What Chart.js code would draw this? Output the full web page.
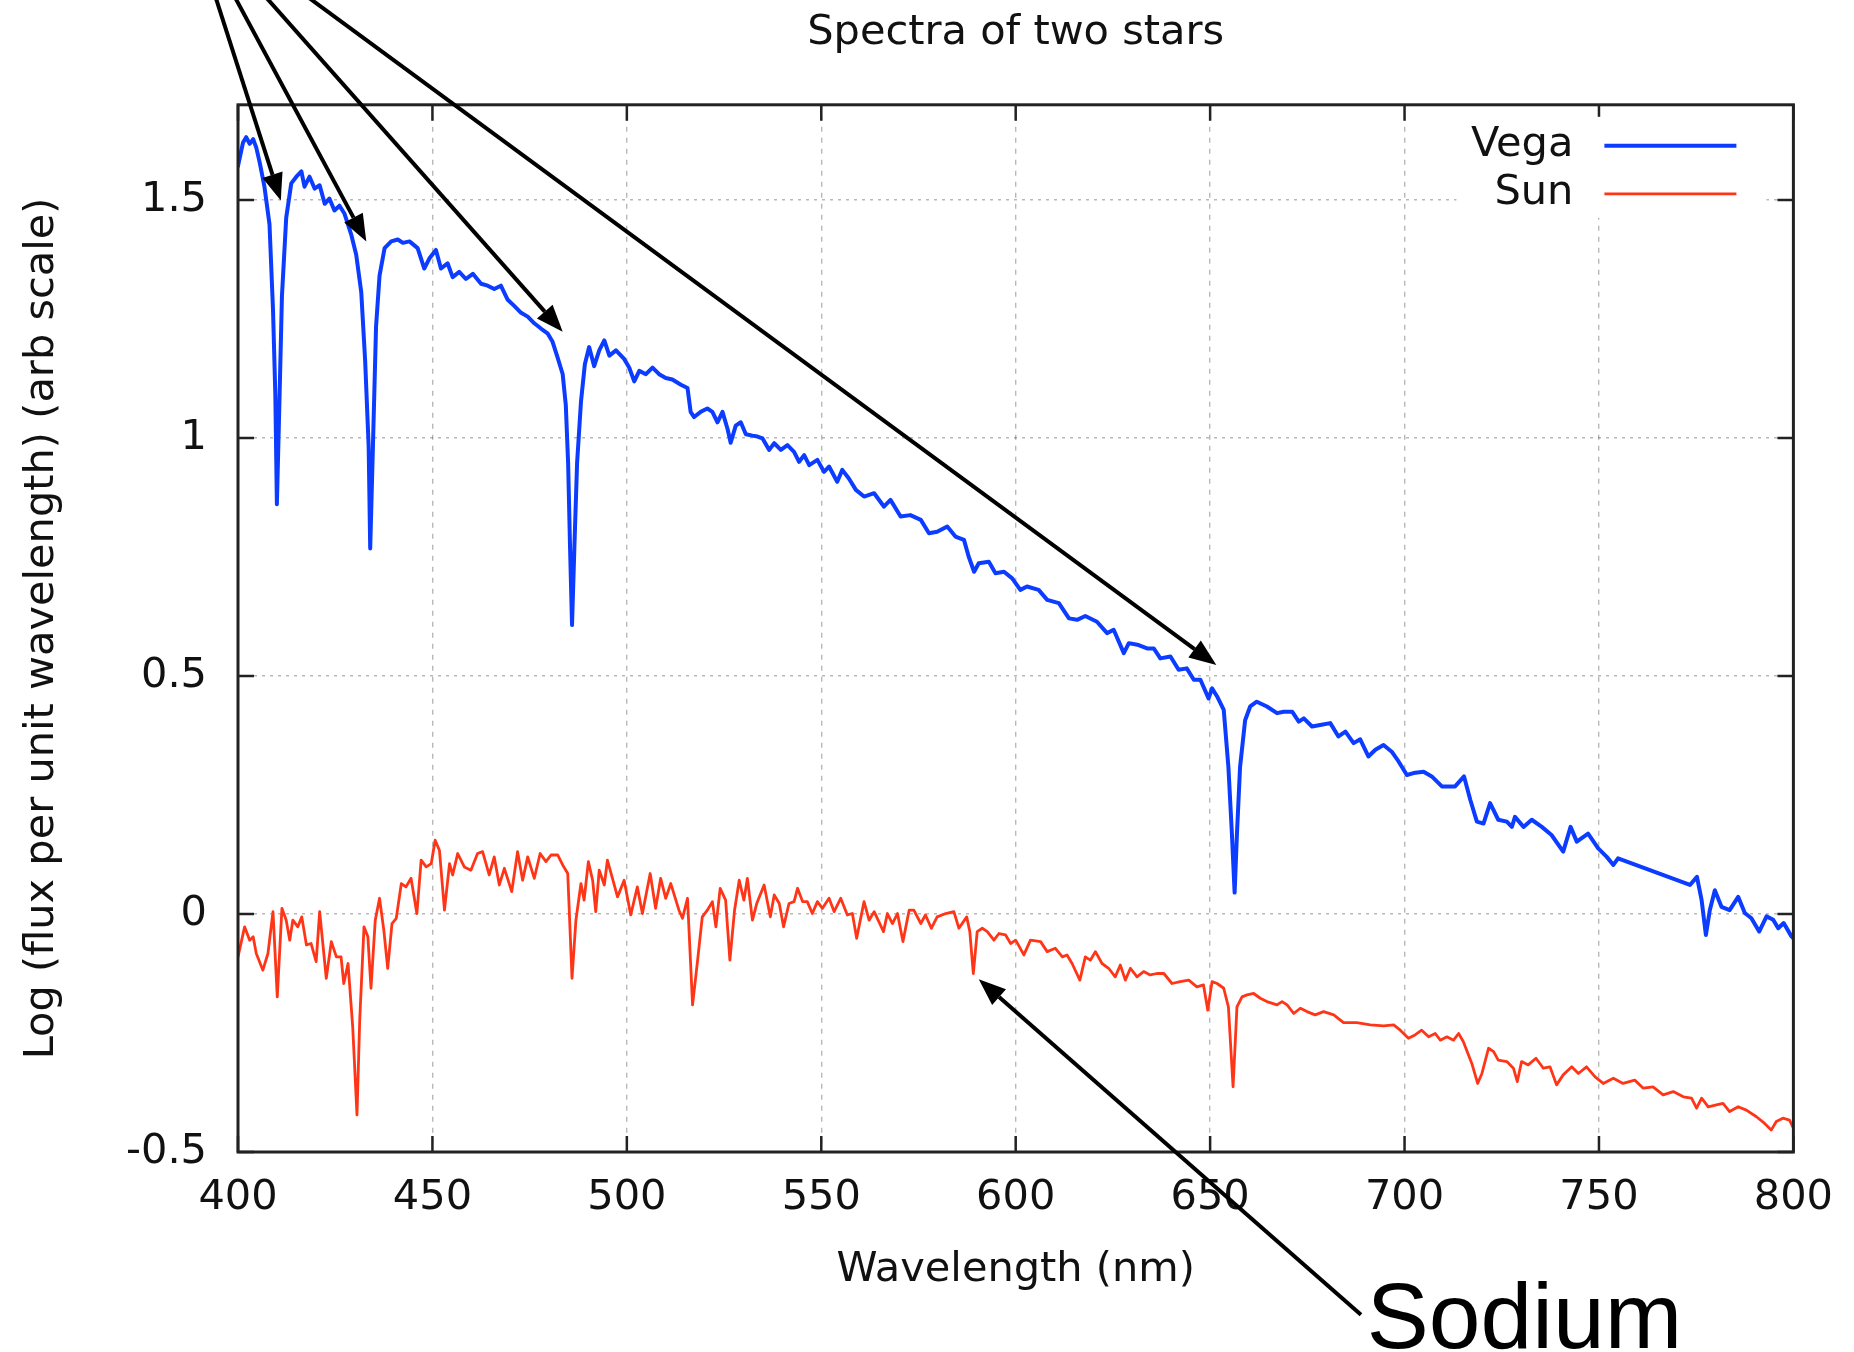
<!DOCTYPE html>
<html>
<head>
<meta charset="utf-8">
<title>Spectra of two stars</title>
<script src="https://cdn.jsdelivr.net/npm/chart.js@4.4.1/dist/chart.umd.min.js"></script>
<style>
    html, body { margin: 0; padding: 0; background: #fff; }
    canvas { display: block; }
</style>
</head>
<body>
<canvas id="spectra" width="1854" height="1352"></canvas>
<script>
// Vega spectrum (nm, log flux)
const vegaWavelength = [
    400.0, 401.3, 402.1, 403.0, 403.9, 404.7, 405.6, 406.8, 408.1, 409.0, 409.6, 410.0, 410.7, 411.3, 412.4,
    413.7, 415.0, 416.3, 417.1, 418.4, 419.7, 421.0, 422.3, 423.5, 424.8, 426.1, 427.4, 429.1, 430.4, 431.7,
    432.7, 433.6, 434.0, 434.7, 435.5, 436.4, 437.7, 439.4, 441.1, 442.4, 444.1, 446.2, 447.9, 449.2, 450.9,
    452.2, 453.9, 455.2, 456.9, 458.6, 460.4, 462.5, 464.2, 465.9, 467.6, 469.3, 471.1, 472.8, 474.5, 476.2,
    477.9, 479.6, 480.9, 482.2, 483.5, 484.3, 484.9, 485.4, 485.9, 486.5, 487.2, 488.2, 489.2, 490.3, 491.6,
    492.9, 494.2, 495.5, 497.2, 499.3, 500.6, 501.9, 503.2, 504.9, 506.6, 508.3, 510.0, 511.7, 513.9, 515.6,
    516.4, 517.3, 519.0, 520.7, 522.0, 523.3, 524.6, 525.9, 526.7, 528.0, 529.3, 530.6, 532.3,
    533.6, 534.9, 536.6, 537.9, 539.6, 541.3, 543.0, 544.3, 545.6, 546.9, 549.0, 550.7, 552.0, 554.1, 555.4,
    557.1, 558.9, 561.0, 563.6, 566.1, 567.8, 570.4, 572.9, 575.6, 577.7, 579.8, 582.4, 584.5, 586.7, 587.9,
    589.3, 590.5, 593.1, 594.8, 597.0, 599.1, 601.2, 602.9, 605.9, 608.1, 611.1, 613.7, 615.8, 617.9, 620.9,
    623.5, 625.2, 627.8, 629.1, 631.6, 633.8, 635.5, 637.2, 639.8, 641.9, 644.0, 645.8, 647.5, 649.6, 650.5,
    651.8, 653.5, 654.7, 655.6, 656.3, 656.9, 657.7, 659.0, 660.3, 662.0, 664.6,
    667.2, 668.9, 671.1, 672.8, 674.1, 676.2, 678.3, 680.9, 683.0, 684.8, 686.9, 688.6, 690.7, 692.5, 694.6,
    696.7, 698.5, 700.6, 702.3, 704.9, 707.0, 709.6, 713.0, 715.3, 716.9, 718.6, 720.3, 722.0, 724.1, 726.3,
    727.6, 728.4, 730.6, 732.7, 735.3, 737.8, 740.8, 742.7, 744.3, 747.2, 749.8, 752.0, 753.7, 754.9, 773.4,
    775.2, 776.4, 777.5, 778.5, 779.8, 781.5, 783.6, 785.8, 787.5, 789.2, 791.2, 793.1, 794.8, 796.1, 797.5,
    799.5, 800.0
];
const vegaFlux = [
    1.571, 1.621, 1.632, 1.618, 1.628, 1.610, 1.578, 1.528, 1.449, 1.270, 1.091, 0.861, 1.091, 1.298, 1.463,
    1.535, 1.549, 1.560, 1.528, 1.549, 1.524, 1.531, 1.492, 1.503, 1.478, 1.488, 1.471, 1.428, 1.385, 1.306,
    1.162, 0.983, 0.768, 0.983, 1.234, 1.341, 1.399, 1.413, 1.417, 1.410, 1.413, 1.399, 1.356, 1.377, 1.395,
    1.356, 1.367, 1.338, 1.349, 1.334, 1.345, 1.324, 1.320, 1.313, 1.320, 1.291, 1.277, 1.263, 1.255, 1.241,
    1.230, 1.220, 1.202, 1.169, 1.134, 1.069, 0.947, 0.768, 0.607, 0.768, 0.947, 1.076, 1.155, 1.191, 1.151,
    1.184, 1.205, 1.173, 1.184, 1.166, 1.148, 1.119, 1.141, 1.134, 1.148, 1.134, 1.126, 1.123, 1.112, 1.105,
    1.055, 1.044, 1.055, 1.062, 1.055, 1.033, 1.055, 1.019, 0.990, 1.026, 1.033, 1.008, 1.005,
    1.003, 0.999, 0.975, 0.989, 0.975, 0.985, 0.971, 0.950, 0.964, 0.943, 0.954, 0.929, 0.940, 0.908, 0.933,
    0.915, 0.891, 0.877, 0.884, 0.856, 0.870, 0.835, 0.838, 0.828, 0.800, 0.803, 0.814, 0.793, 0.786, 0.751,
    0.719, 0.737, 0.740, 0.716, 0.719, 0.705, 0.681, 0.688, 0.681, 0.660, 0.653, 0.621, 0.618, 0.626, 0.614,
    0.590, 0.597, 0.548, 0.569, 0.565, 0.558, 0.558, 0.537, 0.541, 0.513, 0.516, 0.492, 0.492, 0.453, 0.474,
    0.457, 0.429, 0.309, 0.169, 0.045, 0.169, 0.309, 0.407, 0.436, 0.446, 0.436,
    0.422, 0.425, 0.425, 0.404, 0.411, 0.394, 0.397, 0.401, 0.373, 0.383, 0.359, 0.367, 0.331, 0.345, 0.355,
    0.341, 0.320, 0.292, 0.296, 0.299, 0.289, 0.268, 0.268, 0.289, 0.240, 0.194, 0.190, 0.233, 0.198, 0.194,
    0.183, 0.204, 0.183, 0.198, 0.183, 0.166, 0.131, 0.183, 0.152, 0.169, 0.138, 0.120, 0.103, 0.117, 0.061,
    0.078, 0.029, -0.044, 0.008, 0.050, 0.015, 0.008, 0.036, 0.002, -0.009, -0.037, -0.005, -0.012, -0.030, -0.019,
    -0.047, -0.051
];

// Sun spectrum (nm, log flux)
const sunWavelength = [
    400.0, 401.7, 403.0, 403.9, 404.7, 406.4, 407.7, 409.0, 410.1, 411.3, 412.4, 413.3, 414.1, 415.4, 416.4,
    417.6, 418.8, 420.1, 421.0, 422.7, 424.0, 425.3, 426.5, 427.2, 428.3, 429.5, 430.6, 431.3, 432.4, 433.4,
    434.2, 435.3, 436.4, 437.5, 438.5, 439.6, 440.7, 442.0, 443.2, 444.5, 446.0, 447.1, 448.4, 449.7, 450.7,
    451.8, 453.1, 454.4, 455.2, 456.5, 458.2, 459.9, 461.6, 462.9, 464.6, 465.9, 467.2, 468.5, 470.4, 471.9,
    473.2, 474.5, 476.2, 477.7, 479.2, 480.5, 482.2, 483.5, 484.8, 485.9, 486.9, 488.2, 489.0, 490.1, 491.2,
    492.0, 492.9, 494.2, 495.0, 496.3, 497.6, 499.3, 501.0, 502.7, 504.0, 506.0, 507.4, 508.7, 510.0, 511.3,
    513.4, 514.3, 515.6, 516.9, 518.2, 519.4, 520.7, 522.0, 522.9, 524.0, 525.4, 526.5, 527.7, 528.9, 530.1,
    531.0, 532.3, 533.4,
    535.3, 536.9, 537.9, 539.2, 540.3, 541.7, 543.0, 543.9, 545.2, 546.4, 547.7, 549.0, 550.3, 552.0, 553.3,
    555.0, 556.7, 558.0, 559.1, 561.0, 562.3, 563.6, 566.0, 567.0, 568.3, 569.6, 571.0, 572.6, 573.8, 575.6,
    576.8, 578.3, 579.8, 582.0, 584.1, 585.4, 587.4, 588.2, 589.1, 590.1, 591.4, 592.7, 594.4, 595.7, 597.4,
    598.7, 600.0, 602.1, 603.8, 606.4, 608.1, 610.2, 612.0, 613.2, 614.5, 616.5, 617.9, 619.2, 620.5, 622.2,
    623.9, 625.6, 626.9, 628.2, 629.5, 631.2, 632.9, 634.6, 636.3, 638.1, 640.2, 642.3, 644.5, 646.6, 648.3,
    649.4, 650.5, 651.8, 653.5, 654.7, 655.9, 656.9, 658.2, 659.5, 661.2, 662.9, 664.6,
    667.2, 668.5, 669.8, 671.5, 673.2, 674.9, 677.0, 679.2, 681.8, 684.3, 687.7, 691.2, 694.6, 697.2, 698.9,
    701.0, 702.7, 704.4, 706.2, 707.9, 709.2, 710.9, 712.6, 713.9, 715.1, 717.3, 718.8, 719.9, 721.6, 722.9,
    724.1, 726.3, 728.0, 729.0, 730.1, 731.8, 733.8, 735.7, 737.4, 739.1, 740.8, 743.0, 744.7, 746.8, 749.0,
    751.1, 753.7, 756.2, 759.2, 761.4, 763.9, 766.5, 769.1, 771.7, 773.8, 775.1, 776.4, 778.1, 780.2, 781.9,
    783.6, 785.8, 787.9, 790.5, 792.6, 794.3, 795.6, 797.3, 799.0, 800.0
];
const sunFlux = [
    -0.090, -0.027, -0.055, -0.048, -0.083, -0.118, -0.083, 0.005, -0.174, 0.012, -0.013, -0.055, -0.013, -0.027, -0.006,
    -0.065, -0.062, -0.100, 0.005, -0.135, -0.058, -0.090, -0.090, -0.146, -0.104, -0.237, -0.422, -0.223, -0.027, -0.048,
    -0.156, -0.013, 0.033, -0.034, -0.114, -0.020, -0.009, 0.064, 0.057, 0.075, 0.001, 0.113, 0.099, 0.106, 0.155,
    0.134, 0.008, 0.106, 0.082, 0.127, 0.099, 0.092, 0.127, 0.131, 0.082, 0.120, 0.061, 0.096, 0.047, 0.131,
    0.071, 0.120, 0.075, 0.127, 0.110, 0.124, 0.124, 0.103, 0.085, -0.135, -0.013, 0.064, 0.029, 0.110, 0.071,
    0.005, 0.092, 0.061, 0.113, 0.075, 0.036, 0.071, -0.002, 0.057, 0.001, 0.085, 0.012, 0.075, 0.033, 0.064,
    0.008, -0.009, 0.033, -0.191, -0.097, -0.006, 0.008, 0.026, -0.027, 0.054, 0.029, -0.097, 0.008, 0.071, 0.029,
    0.075, -0.013, 0.022,
    0.061, -0.006, 0.040, 0.022, -0.027, 0.022, 0.026, 0.054, 0.026, 0.026, 0.001, 0.026, 0.012, 0.033, 0.005,
    0.033, -0.002, 0.001, -0.051, 0.026, -0.013, 0.005, -0.037, 0.001, -0.020, 0.001, -0.058, 0.008, 0.008, -0.020,
    -0.002, -0.030, -0.006, 0.001, 0.005, -0.030, -0.006, -0.037, -0.125, -0.037, -0.030, -0.037, -0.055, -0.041, -0.044,
    -0.062, -0.055, -0.086, -0.055, -0.058, -0.079, -0.072, -0.090, -0.086, -0.104, -0.139, -0.090, -0.097, -0.079, -0.104,
    -0.114, -0.132, -0.107, -0.139, -0.114, -0.132, -0.121, -0.128, -0.125, -0.125, -0.146, -0.142, -0.139, -0.153, -0.149,
    -0.202, -0.142, -0.146, -0.156, -0.195, -0.363, -0.195, -0.174, -0.170, -0.167, -0.177, -0.184,
    -0.191, -0.184, -0.191, -0.209, -0.198, -0.205, -0.212, -0.205, -0.212, -0.228, -0.228, -0.233, -0.235, -0.233, -0.244,
    -0.261, -0.254, -0.244, -0.258, -0.251, -0.265, -0.258, -0.265, -0.251, -0.268, -0.314, -0.356, -0.335, -0.282, -0.289,
    -0.307, -0.310, -0.324, -0.352, -0.310, -0.317, -0.303, -0.324, -0.321, -0.359, -0.338, -0.321, -0.335, -0.321, -0.342,
    -0.356, -0.345, -0.356, -0.349, -0.366, -0.363, -0.380, -0.373, -0.384, -0.387, -0.408, -0.387, -0.405, -0.401, -0.398,
    -0.415, -0.405, -0.412, -0.426, -0.440, -0.454, -0.436, -0.429, -0.433, -0.450
];

const yTickValues = [-0.5, 0, 0.5, 1, 1.5];
const yTickLabels = ['-0.5', '0', '0.5', '1', '1.5'];

// Callouts, in data units (wavelength, log flux)
const hydrogenArrowFrom = [386.9, 2.113];
const hydrogenArrowTips = [[411.0, 1.499], [433.0, 1.413], [483.5, 1.223], [651.6, 0.523]];
const sodiumArrowFrom = [688.8, -0.842];
const sodiumArrowTip = [590.5, -0.137];
const sodiumLabelAt = [690.3, -0.912];

const FONT = '"DejaVu Sans", sans-serif';
const INK = '#111';

function toPoints(xs, ys) {
    return xs.map((x, i) => ({x: x, y: ys[i]}));
}

/**
 * Black frame with inward ticks on all four sides, like gnuplot draws it.
 */
const frameTicks = {
    id: 'frameTicks',
    afterDatasetsDraw(chart) {
        const {ctx, chartArea: a, scales: {x, y}} = chart;
        const len = 16;
        ctx.save();
        ctx.strokeStyle = '#222';
        ctx.lineWidth = 2.5;
        ctx.beginPath();
        x.ticks.forEach(t => {
            const px = x.getPixelForValue(t.value);
            ctx.moveTo(px, a.bottom);
            ctx.lineTo(px, a.bottom - len);
            ctx.moveTo(px, a.top);
            ctx.lineTo(px, a.top + len);
        });
        y.ticks.forEach(t => {
            const py = y.getPixelForValue(t.value);
            ctx.moveTo(a.left, py);
            ctx.lineTo(a.left + len, py);
            ctx.moveTo(a.right, py);
            ctx.lineTo(a.right - len, py);
        });
        ctx.stroke();
        ctx.lineWidth = 3;
        ctx.strokeRect(a.left, a.top, a.right - a.left, a.bottom - a.top);
        ctx.restore();
    }
};

/**
 * Key in the top right corner: label first, then a line sample.
 */
const insideLegend = {
    id: 'insideLegend',
    afterDatasetsDraw(chart) {
        const {ctx, chartArea: a} = chart;
        const textRight = a.right - 220;
        const lineStart = a.right - 189;
        const lineEnd = a.right - 57;
        ctx.save();
        ctx.fillStyle = '#fff';
        ctx.fillRect(a.right - 337, a.top + 12, 310, 101);
        ctx.font = '41.5px ' + FONT;
        ctx.textAlign = 'right';
        ctx.textBaseline = 'middle';
        chart.data.datasets.forEach((ds, i) => {
            const yPos = a.top + 40 + i * 48;
            ctx.fillStyle = INK;
            ctx.fillText(ds.label, textRight, yPos);
            ctx.strokeStyle = ds.borderColor;
            ctx.lineWidth = ds.borderWidth;
            ctx.beginPath();
            ctx.moveTo(lineStart, yPos + 1);
            ctx.lineTo(lineEnd, yPos + 1);
            ctx.stroke();
        });
        ctx.restore();
    }
};

function drawArrow(ctx, x1, y1, x2, y2) {
    const ang = Math.atan2(y2 - y1, x2 - x1);
    const head = 27;
    const half = 10.5;
    const bx = x2 - head * Math.cos(ang);
    const by = y2 - head * Math.sin(ang);
    ctx.beginPath();
    ctx.moveTo(x1, y1);
    ctx.lineTo(bx, by);
    ctx.stroke();
    ctx.beginPath();
    ctx.moveTo(x2, y2);
    ctx.lineTo(bx + half * Math.sin(ang), by - half * Math.cos(ang));
    ctx.lineTo(bx - half * Math.sin(ang), by + half * Math.cos(ang));
    ctx.closePath();
    ctx.fill();
}

/**
 * Arrows to the Balmer lines of Vega and to the sodium line of the Sun.
 */
const callouts = {
    id: 'callouts',
    afterDraw(chart) {
        const {ctx, scales: {x, y}} = chart;
        const px = p => [x.getPixelForValue(p[0]), y.getPixelForValue(p[1])];
        ctx.save();
        ctx.strokeStyle = '#000';
        ctx.fillStyle = '#000';
        ctx.lineWidth = 4;
        const from = px(hydrogenArrowFrom);
        hydrogenArrowTips.forEach(tip => {
            const to = px(tip);
            drawArrow(ctx, from[0], from[1], to[0], to[1]);
        });
        const sFrom = px(sodiumArrowFrom);
        const sTo = px(sodiumArrowTip);
        drawArrow(ctx, sFrom[0], sFrom[1], sTo[0], sTo[1]);
        const label = px(sodiumLabelAt);
        ctx.font = '93px "Liberation Sans", sans-serif';
        ctx.textAlign = 'left';
        ctx.textBaseline = 'alphabetic';
        ctx.fillText('Sodium', label[0], label[1]);
        ctx.restore();
    }
};

new Chart(document.getElementById('spectra'), {
    type: 'line',
    plugins: [frameTicks, insideLegend, callouts],
    data: {
        datasets: [
            {
                label: 'Vega',
                data: toPoints(vegaWavelength, vegaFlux),
                borderColor: '#0b3cff',
                borderWidth: 4,
                pointRadius: 0,
                borderJoinStyle: 'round',
                borderCapStyle: 'round',
                tension: 0
            },
            {
                label: 'Sun',
                data: toPoints(sunWavelength, sunFlux),
                borderColor: '#ff3518',
                borderWidth: 2.8,
                pointRadius: 0,
                borderJoinStyle: 'round',
                borderCapStyle: 'round',
                tension: 0
            }
        ]
    },
    options: {
        responsive: false,
        animation: false,
        devicePixelRatio: 1,
        layout: {
            padding: {left: 0, right: 59, top: 0, bottom: 0}
        },
        plugins: {
            legend: {display: false},
            tooltip: {enabled: false},
            title: {
                display: true,
                fullSize: false,
                text: 'Spectra of two stars',
                color: INK,
                font: {family: FONT, size: 41.5, weight: 'normal'},
                padding: {top: 8, bottom: 47}
            }
        },
        scales: {
            x: {
                type: 'linear',
                min: 400,
                max: 800,
                afterFit: scale => { scale.height = 200; },
                ticks: {
                    stepSize: 50,
                    maxRotation: 0,
                    padding: 21,
                    color: INK,
                    font: {family: FONT, size: 41.5}
                },
                grid: {
                    color: 'rgba(0,0,0,0.28)',
                    lineWidth: 1.4,
                    drawTicks: false
                },
                border: {display: false, dash: [5, 6]},
                title: {
                    display: true,
                    text: 'Wavelength (nm)',
                    color: INK,
                    font: {family: FONT, size: 41.5},
                    padding: {top: 0, bottom: 57}
                }
            },
            y: {
                type: 'linear',
                min: -0.5,
                max: 1.7,
                afterFit: scale => { scale.width = 238; },
                afterBuildTicks: scale => {
                    scale.ticks = yTickValues.map(v => ({value: v}));
                },
                ticks: {
                    padding: 31,
                    color: INK,
                    font: {family: FONT, size: 41.5},
                    callback: value => yTickLabels[yTickValues.indexOf(value)]
                },
                grid: {
                    color: 'rgba(0,0,0,0.28)',
                    lineWidth: 1.4,
                    drawTicks: false
                },
                border: {display: false, dash: [3, 5]},
                title: {
                    display: true,
                    text: 'Log (flux per unit wavelength) (arb scale)',
                    color: INK,
                    font: {family: FONT, size: 41.5},
                    padding: {top: 17, bottom: 0}
                }
            }
        }
    }
});
</script>
</body>
</html>
